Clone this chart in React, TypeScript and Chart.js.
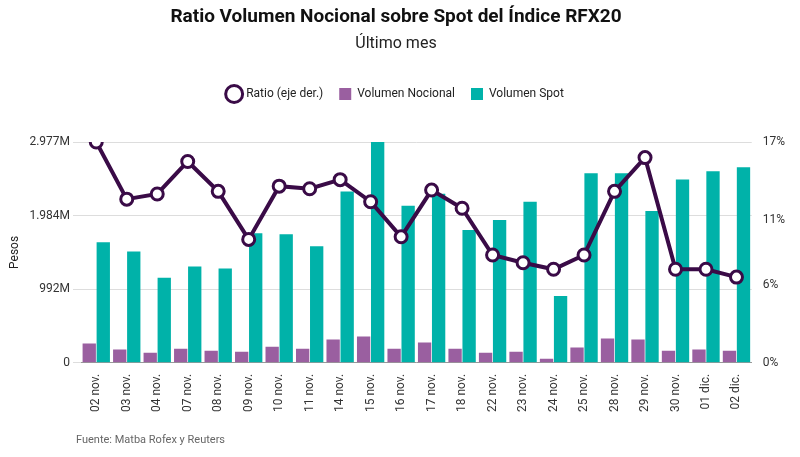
import React, { useEffect, useRef } from "react";
import { Chart, registerables } from "chart.js";
Chart.register(...registerables);

const categories = ["02 nov.","03 nov.","04 nov.","07 nov.","08 nov.","09 nov.","10 nov.","11 nov.","14 nov.","15 nov.","16 nov.","17 nov.","18 nov.","22 nov.","23 nov.","24 nov.","25 nov.","28 nov.","29 nov.","30 nov.","01 dic.","02 dic."];
const notional = [259,178,137,191,164,150,218,191,314,355,191,273,191,137,150,55,205,328,314,164,178,164];
const spot = [1625,1502,1147,1297,1270,1748,1734,1570,2308,2977,2117,2280,1789,1925,2171,901,2554,2554,2048,2472,2581,2636];
const ratio = [17.0,12.6,13.0,15.5,13.2,9.5,13.6,13.4,14.1,12.4,9.7,13.3,11.9,8.3,7.7,7.2,8.3,13.2,15.8,7.2,7.2,6.6];
const leftTicks = [0, 992, 1984, 2977];
const leftLabels = ["0", "992M", "1.984M", "2.977M"];
const rightTicks = [0, 6, 11, 17];
const rightLabels = ["0%", "6%", "11%", "17%"];

const legendSpace = {
  id: "legendSpace",
  beforeInit(chart: any) {
    const orig = chart.legend.fit;
    chart.legend.fit = function () { orig.bind(chart.legend)(); this.height += 32; };
  },
};

export default function App() {
  const ref = useRef<HTMLCanvasElement>(null);
  useEffect(() => {
    const font = "Roboto";
    const chart = new Chart(ref.current!, {
      type: "bar",
      plugins: [legendSpace],
      data: {
        labels: categories,
        datasets: [
          { label: "Volumen Nocional", data: notional, backgroundColor: "#9a5fa0", yAxisID: "y", order: 1, barPercentage: 0.95, categoryPercentage: 0.92 },
          { label: "Volumen Spot", data: spot, backgroundColor: "#00b2a9", yAxisID: "y", order: 1, barPercentage: 0.95, categoryPercentage: 0.92 },
          { type: "line", label: "Ratio (eje der.)", data: ratio, yAxisID: "y1", borderColor: "#3a0b47", backgroundColor: "#ffffff", borderWidth: 4, pointRadius: 6, pointBorderWidth: 3, pointBackgroundColor: "#ffffff", pointBorderColor: "#3a0b47", order: 0 },
        ] as any,
      },
      options: {
        animation: false,
        responsive: false,
        layout: { padding: { left: 4, right: 12, bottom: 42 } },
        plugins: {
          title: { display: true, text: "Ratio Volumen Nocional sobre Spot del Índice RFX20", color: "#111", font: { family: font, size: 19, weight: "bold" }, padding: { top: 6, bottom: 6 } },
          subtitle: { display: true, text: "Último mes", color: "#222", font: { family: font, size: 16 }, padding: { bottom: 18 } },
          legend: {
            labels: {
              font: { family: font, size: 12 }, color: "#222", usePointStyle: true, padding: 16, boxHeight: 14,
              generateLabels: (c: any) => {
                const items = Chart.defaults.plugins.legend.labels.generateLabels(c);
                return items.map((it: any) => it.datasetIndex === 2 ? { ...it, pointStyle: "circle", lineWidth: 3, fillStyle: "#fff", strokeStyle: "#3a0b47" } : { ...it, pointStyle: "rect" });
              },
            },
          },
          tooltip: { enabled: false },
        },
        scales: {
          x: { grid: { display: false }, border: { color: "#999" }, ticks: { minRotation: 90, maxRotation: 90, color: "#333", font: { family: font, size: 12 } } },
          y: {
            position: "left", min: 0, max: 2977,
            afterBuildTicks: (s: any) => { s.ticks = leftTicks.map((v) => ({ value: v })); },
            ticks: { color: "#333", font: { family: font, size: 12 }, callback: (v: any) => leftLabels[leftTicks.indexOf(v)] },
            grid: { color: "#ddd" }, border: { display: false },
            title: { display: true, text: "Pesos", color: "#222", font: { family: font, size: 12 } },
          },
          y1: {
            position: "right", min: 0, max: 17,
            afterBuildTicks: (s: any) => { s.ticks = rightTicks.map((v) => ({ value: v })); },
            ticks: { color: "#333", font: { family: font, size: 12 }, callback: (v: any) => rightLabels[rightTicks.indexOf(v)] },
            grid: { display: false }, border: { display: false },
          },
        },
      } as any,
    });
    return () => chart.destroy();
  }, []);
  return (
    <div style={{ position: "absolute", left: 0, top: 0, width: 800, height: 457, background: "#fff" }}>
      <canvas ref={ref} width={800} height={457} />
      <div style={{ position: "absolute", left: 76, top: 433, fontFamily: "Roboto", fontSize: 11, color: "#666" }}>Fuente: Matba Rofex y Reuters</div>
    </div>
  );
}
